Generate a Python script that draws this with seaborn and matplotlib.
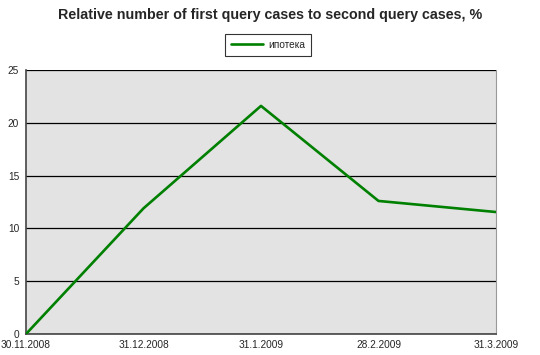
import matplotlib
matplotlib.use("Agg")
import matplotlib.pyplot as plt
import seaborn as sns
import pandas as pd

dates = ["30.11.2008", "31.12.2008", "31.1.2009", "28.2.2009", "31.3.2009"]
values = [0.0, 11.9, 21.6, 12.6, 11.55]
series_name = "ипотека"
title = "Relative number of first query cases to second query cases, %"

sns.set_style("white")
plt.rcParams['font.family'] = ['Liberation Sans', 'DejaVu Sans']

df = pd.DataFrame({"date": dates, "value": values, "series": series_name})

fig = plt.figure(figsize=(5.4, 3.55), dpi=100)
ax = fig.add_axes([26/540, 1 - 334/355, 470/540, 264/355])
ax.set_facecolor("#e3e3e3")

sns.lineplot(data=df, x="date", y="value", hue="series", palette=["#008000"],
             linewidth=1.9, sort=False, ax=ax, zorder=3)

ax.set_xlim(0, len(dates) - 1)
ax.set_ylim(0, 25)
ax.set_yticks([0, 5, 10, 15, 20, 25])
ax.yaxis.grid(True, color="black", linewidth=0.9)
ax.set_axisbelow(True)
ax.set_xlabel("")
ax.set_ylabel("")
ax.tick_params(axis="both", labelsize=7.3, length=3, width=0.8, color="#444444",
               direction="out", pad=2)
ax.tick_params(axis="x", direction="inout", length=5)
for s in ["left", "bottom"]:
    ax.spines[s].set_color("#444444")
    ax.spines[s].set_linewidth(1.2)
ax.spines["right"].set_color("#999999")
ax.spines["top"].set_visible(False)

ax.legend(handles=ax.get_legend_handles_labels()[0], labels=[series_name],
          loc="center", bbox_to_anchor=(268/540, 1 - 45/355),
          bbox_transform=fig.transFigure, fontsize=7.3, frameon=True,
          fancybox=False, edgecolor="black", handlelength=3.2,
          handletextpad=0.5, borderpad=0.55, borderaxespad=0)
ax.get_legend().get_frame().set_linewidth(0.8)

fig.text(0.5, 1 - 15/355, title, ha="center", va="center", fontsize=10.3,
         fontweight="bold")

fig.savefig("out.png", dpi=100, facecolor="white")
